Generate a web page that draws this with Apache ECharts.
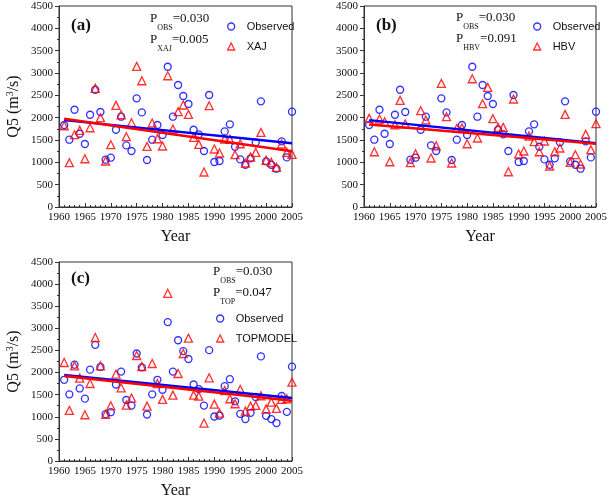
<!DOCTYPE html>
<html><head><meta charset="utf-8">
<script src="https://cdn.jsdelivr.net/npm/echarts@6/dist/echarts.min.js"></script>
<style>html,body{margin:0;padding:0;background:#fff}#c{width:610px;height:500px}</style>
</head><body><div id="c"></div>
<script>
const years = [1961,1962,1963,1964,1965,1966,1967,1968,1969,1970,1971,1972,1973,1974,1975,1976,1977,1978,1979,1980,1981,1982,1983,1984,1985,1986,1987,1988,1989,1990,1991,1992,1993,1994,1995,1996,1997,1998,1999,2000,2001,2002,2003,2004,2005];
const observed = [1836,1507,2178,1641,1410,2066,2626,2127,1059,1104,1730,2022,1379,1253,2432,2118,1052,1507,1836,1612,3141,2022,2731,2485,2306,1730,1626,1253,2507,1007,1030,1693,1850,1350,1066,947,1089,1447,2365,1022,947,858,1470,1111,2134];
const xaj = [1820,992,1619,1716,1081,1775,2656,2000,1030,1395,2275,2066,1574,1887,3148,2827,1357,1880,1529,1365,2939,1746,2134,2283,2073,1559,1402,784,2268,1298,1209,1522,1515,1171,1417,985,1119,1223,1670,1044,999,887,1410,1223,1178];
const hbv = [1984,1238,1970,1910,1014,1842,2387,1858,992,1193,2156,1947,1097,1372,2767,2022,985,1760,1768,1417,2872,1545,2313,2678,1977,1782,1782,790,2418,1186,1253,1589,1462,1238,1477,918,1238,1321,2073,999,1171,962,1626,1283,1865];
const topmodel = [2228,1144,2151,1874,1045,1753,2792,2151,1054,1248,1964,1655,1264,1422,2386,2137,1242,2205,1753,1393,3792,1490,1979,2431,2777,1490,1467,858,1881,1287,1084,1595,1407,1294,1618,1129,1242,1257,1475,1174,1332,1189,1393,1407,1783];
const trendYears = [1961, 2005];
const obsTrend = [1945, 1425];
const xajTrend = [1975, 1250];
const hbvTrend = [1845, 1417];
const topTrend = [1920, 1362];
const xTicks = [1960, 2005, 5];
const yTicks = [0, 4500, 500];
const panels = [
  {label:'(a)', model:'XAJ', sub:'XAJ', p:'0.005', values:xaj, trend:xajTrend},
  {label:'(b)', model:'HBV', sub:'HBV', p:'0.091', values:hbv, trend:hbvTrend},
  {label:'(c)', model:'TOPMODEL', sub:'TOP', p:'0.047', values:topmodel, trend:topTrend}
];
const pObs = '0.030';

const BLUE = '#0000ff', RED = '#ff0000';
const SERIF = '"Liberation Serif","Times New Roman",serif';
const SANS = '"Liberation Sans",Arial,sans-serif';
const grids = [
  {left:59, top:6, width:233, height:201},
  {left:364, top:6, width:233, height:201},
  {left:59, top:262, width:233, height:199}
];
const pair = (xs, ys) => xs.map((x,i)=>[x, ys[i]]);
const plain = v => String(v);
const hollow = c => ({color:'rgba(255,255,255,0)', borderColor:c, borderWidth:1.35});

const legendFor = (left, top, model) => ({
  left:left, top:top, orient:'vertical', itemGap:9, itemWidth:7, itemHeight:7,
  data:[{name:'Observed', icon:'circle', itemStyle:hollow(BLUE)},
        {name:model, icon:'triangle', itemStyle:hollow(RED)}],
  textStyle:{fontFamily:SANS, fontSize:11, color:'#111', padding:[0,0,0,7]}
});

const option = {
  animation:false,
  backgroundColor:'#fff',
  grid: grids.map(g=>Object.assign({show:true, borderColor:'#333', borderWidth:1, backgroundColor:'transparent'}, g)),
  xAxis: grids.map((g,i)=>({
    type:'value', gridIndex:i, min:xTicks[0], max:xTicks[1], interval:xTicks[2],
    name:'Year', nameLocation:'middle', nameGap:22,
    nameTextStyle:{fontFamily:SERIF, fontSize:16, color:'#111'},
    axisLine:{show:true, onZero:false, lineStyle:{color:'#333', width:1}},
    axisTick:{show:true, inside:true, length:4, lineStyle:{color:'#333'}},
    minorTick:{show:true, splitNumber:5, length:2, lineStyle:{color:'#333'}},
    splitLine:{show:false},
    axisLabel:{fontFamily:SERIF, fontSize:11, color:'#111', margin:5, formatter:plain}
  })),
  yAxis: grids.map((g,i)=>({
    type:'value', gridIndex:i, min:yTicks[0], max:yTicks[1], interval:yTicks[2],
    name: i===1 ? '' : 'Q5 (m{sup|3}/s)', nameLocation:'middle', nameGap:36, nameRotate:90,
    nameTextStyle:{fontFamily:SERIF, fontSize:16, color:'#111',
      rich:{sup:{fontFamily:SERIF, fontSize:10, verticalAlign:'top', padding:[0,0,8,0]}}},
    axisLine:{show:true, lineStyle:{color:'#333', width:1}},
    axisTick:{show:true, inside:false, length:4, lineStyle:{color:'#333'}},
    minorTick:{show:true, splitNumber:2, length:2, lineStyle:{color:'#333'}},
    splitLine:{show:false},
    axisLabel:{fontFamily:SERIF, fontSize:11, color:'#111', margin:6, formatter:plain}
  })),
  legend: [legendFor(222, 16, 'XAJ'), legendFor(528, 16, 'HBV'), legendFor(211, 308, 'TOPMODEL')],
  series: [],
  graphic: []
};

panels.forEach((p, i)=>{
  option.series.push({
    type:'scatter', name:'Observed', xAxisIndex:i, yAxisIndex:i, z:3,
    data: pair(years, observed), symbol:'circle', symbolSize:7,
    itemStyle:hollow(BLUE)
  });
  option.series.push({
    type:'scatter', name:p.model, xAxisIndex:i, yAxisIndex:i, z:3,
    data: pair(years, p.values), symbol:'triangle', symbolSize:8,
    itemStyle:hollow(RED)
  });
  option.series.push({
    type:'line', name:'obsTrend'+i, xAxisIndex:i, yAxisIndex:i, z:4,
    data: pair(trendYears, obsTrend), symbol:'none', lineStyle:{color:BLUE, width:2.5}
  });
  option.series.push({
    type:'line', name:'modTrend'+i, xAxisIndex:i, yAxisIndex:i, z:4,
    data: pair(trendYears, p.trend), symbol:'none', lineStyle:{color:RED, width:2.5}
  });
});

const labelPos = [[71,17],[376,17],[71,270]];
const pPos = [[150,12],[456,11],[213,265]];
panels.forEach((p,i)=>{
  option.graphic.push({type:'text', left:labelPos[i][0], top:labelPos[i][1], z:10,
    style:{text:p.label, font:'bold 17px '+SERIF, fill:'#111'}});
  const rich = {
    p:{fontFamily:SERIF, fontSize:13, lineHeight:20, fill:'#111', verticalAlign:'top'},
    s:{fontFamily:SERIF, fontSize:8, lineHeight:20, fill:'#111', verticalAlign:'bottom', padding:[6,0,0,0]}
  };
  option.graphic.push({type:'text', left:pPos[i][0], top:pPos[i][1], z:10,
    style:{text:'{p|P}{s|OBS}{p|='+pObs+'}', rich:rich, fill:'#111'}});
  option.graphic.push({type:'text', left:pPos[i][0], top:pPos[i][1]+21, z:10,
    style:{text:'{p|P}{s|'+p.sub+'}{p|='+p.p+'}', rich:rich, fill:'#111'}});
});

const chart = echarts.init(document.getElementById('c'), null, {renderer:'canvas'});
chart.setOption(option);
</script></body></html>
